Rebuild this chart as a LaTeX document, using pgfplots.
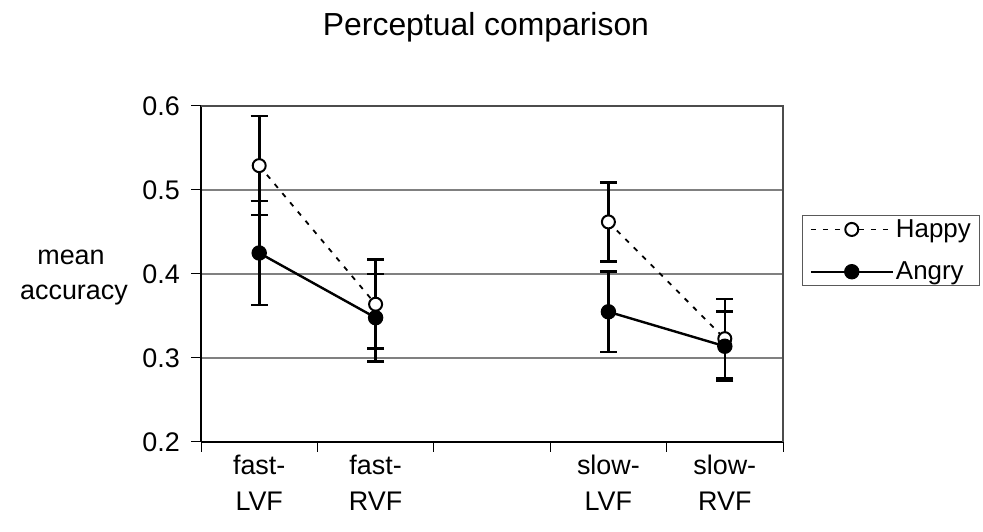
\documentclass[border=0pt]{standalone}
\usepackage{pgfplots}
\pgfplotsset{compat=1.18}
\usepackage{fontspec}
\setmainfont{Liberation Sans}
\begin{document}
\begin{tikzpicture}[x=1bp,y=1bp]
\useasboundingbox (0,0) rectangle (983,532);
\node[font=\fontsize{32}{38}\selectfont, anchor=base, inner sep=0pt] at (486,496) {Perceptual comparison};
\node[font=\fontsize{27}{33}\selectfont, anchor=base, inner sep=0pt] at (71,267) {mean};
\node[font=\fontsize{27}{33}\selectfont, anchor=base, inner sep=0pt] at (74,232) {accuracy};
\begin{axis}[
  at={(201bp,90bp)}, anchor=south west,
  width=582bp, height=336bp, scale only axis,
  xmin=0, xmax=5, ymin=0.2, ymax=0.6,
  unbounded coords=jump,
  xtick={0.5,1.5,3.5,4.5},
  xticklabels={{fast-\\LVF},{fast-\\RVF},{slow-\\LVF},{slow-\\RVF}},
  xticklabel style={align=center, font=\fontsize{27}{36}\selectfont, anchor=north, inner sep=0pt, yshift=-3bp},
  major x tick style={draw=none},
  minor xtick={0,1,2,3,4,5},
  minor tick length=10bp,
  minor x tick style={black, line width=1bp},
  ytick={0.2,0.3,0.4,0.5,0.6},
  yticklabel style={/pgf/number format/.cd, fixed, fixed zerofill, precision=1, /tikz/.cd, font=\fontsize{27}{33}\selectfont, anchor=east, inner sep=0pt, xshift=-11bp},
  /pgf/number format/assume math mode=true,
  tick align=outside,
  major tick length=10bp,
  ytick style={black, line width=1bp},
  ymajorgrids, grid style={black!50, line width=1.2bp},
  axis line style={line width=1.3bp},
  axis x line*=bottom, axis y line*=left,
  clip=false,
  legend style={at={(1.0326,0.675)}, anchor=north west, draw=black!65, line width=1.2bp,
    font=\fontsize{26}{30}\selectfont, row sep=19bp, inner xsep=7bp, inner ysep=2bp, legend cell align=left},
  legend image code/.code={\draw[mark repeat=2,mark phase=2,#1] plot coordinates {(0bp,0bp) (41bp,0bp) (82bp,0bp)};},
]
\draw[black!70, line width=1.2bp] (rel axis cs:0,1) -- (rel axis cs:1,1) -- (rel axis cs:1,0);
\addplot[black, line width=1.8bp, dash pattern=on 5bp off 7bp,
  mark=*, mark options={solid, fill=white, draw=black, line width=2bp}, mark size=6.5bp,
  error bars/.cd, y dir=both, y explicit,
  error bar style={solid, line width=2.6bp, black},
  error mark options={rotate=90, mark size=8.5bp, line width=2.6bp, black}]
  table[x=x, y=y, y error=e] {
x y e
0.5 0.529 0.059
1.5 0.364 0.053
2.5 nan 0
3.5 0.462 0.047
4.5 0.323 0.047
};
\addlegendentry{Happy}
\addplot[black, line width=2.4bp,
  mark=*, mark options={solid, fill=black, draw=black, line width=1bp}, mark size=7.2bp,
  error bars/.cd, y dir=both, y explicit,
  error bar style={solid, line width=2.6bp, black},
  error mark options={rotate=90, mark size=8.5bp, line width=2.6bp, black}]
  table[x=x, y=y, y error=e] {
x y e
0.5 0.425 0.062
1.5 0.348 0.052
2.5 nan 0
3.5 0.355 0.048
4.5 0.314 0.041
};
\addlegendentry{Angry}
\end{axis}
\end{tikzpicture}
\end{document}
